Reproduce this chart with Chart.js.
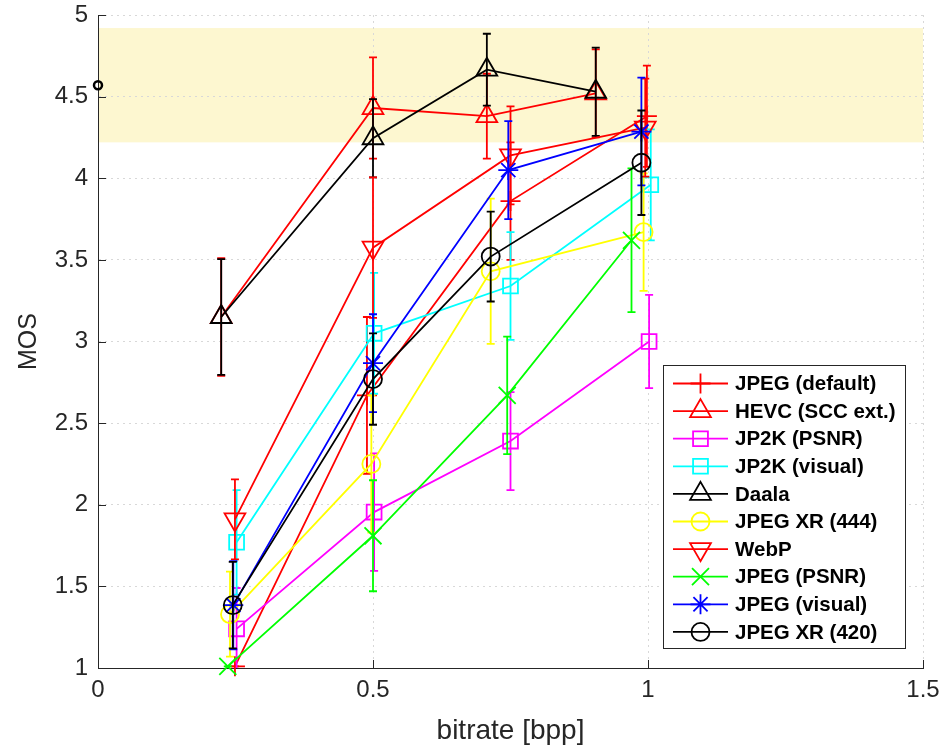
<!DOCTYPE html>
<html>
<head>
<meta charset="utf-8">
<script src="https://cdn.jsdelivr.net/npm/chart.js@4.4.0/dist/chart.umd.min.js"></script>
<style>
  html, body { margin: 0; padding: 0; background: #fff; }
</style>
</head>
<body>
<canvas id="chart" width="944" height="750"></canvas>
<script>
// codecs in legend order
const names = ['JPEG (default)', 'HEVC (SCC ext.)', 'JP2K (PSNR)', 'JP2K (visual)', 'Daala',
               'JPEG XR (444)', 'WebP', 'JPEG (PSNR)', 'JPEG (visual)', 'JPEG XR (420)'];
const colors = ['#ff0000', '#ff0000', '#ff00ff', '#00ffff', '#000000',
                '#ffff00', '#ff0000', '#00ff00', '#0000ff', '#000000'];
const markers = ['cross', 'triangle', 'rect', 'rect', 'triangle',
                 'circle', 'triangle', 'crossRot', 'star', 'circle'];
const markerRot = [0, 0, 0, 0, 0, 0, 180, 0, 0, 0];
const markerSize = [10, 12, 10.5, 10.5, 12, 9, 12, 12, 10, 9];

// bitrate [bpp] per codec
const bitrate = [
  [0.249, 0.489, 0.750, 0.998],
  [0.224, 0.500, 0.707, 0.905],
  [0.252, 0.502, 0.750, 1.002],
  [0.252, 0.502, 0.750, 1.005],
  [0.224, 0.500, 0.707, 0.905],
  [0.240, 0.497, 0.714, 0.992],
  [0.249, 0.500, 0.750, 0.995],
  [0.236, 0.500, 0.744, 0.970],
  [0.246, 0.500, 0.746, 0.988],
  [0.245, 0.500, 0.714, 0.988]
];
// mean opinion score
const mos = [
  [1.01, 2.67, 3.86, 4.38],
  [3.15, 4.43, 4.38, 4.52],
  [1.24, 1.955, 2.39, 3.00],
  [1.77, 3.05, 3.34, 3.96],
  [3.15, 4.245, 4.665, 4.53],
  [1.33, 2.25, 3.43, 3.67],
  [1.91, 3.575, 4.14, 4.31],
  [1.01, 1.81, 2.67, 3.62],
  [1.385, 2.867, 4.05, 4.286],
  [1.385, 2.77, 3.52, 4.095]
];
// confidence interval half width
const ci = [
  [0.00, 0.48, 0.36, 0.31],
  [0.36, 0.31, 0.26, 0.27],
  [0.25, 0.36, 0.30, 0.285],
  [0.32, 0.37, 0.33, 0.34],
  [0.355, 0.24, 0.22, 0.27],
  [0.26, 0.42, 0.445, 0.36],
  [0.245, 0.43, 0.30, 0.30],
  [0.00, 0.34, 0.36, 0.44],
  [0.27, 0.30, 0.30, 0.33],
  [0.265, 0.28, 0.275, 0.32]
];

const refPoint = [0, 4.57];
const bandLow = 4.22, bandHigh = 4.92;

const axisColor = '#262626';
const fontFamily = '"Liberation Sans", Arial, Helvetica, sans-serif';

const datasets = names.map((n, i) => ({
  label: n,
  data: bitrate[i].map((b, j) => ({x: b, y: mos[i][j]})),
  showLine: true,
  borderColor: colors[i],
  borderWidth: 1.8,
  pointStyle: markers[i],
  pointRotation: markerRot[i],
  pointRadius: markerSize[i],
  pointBorderWidth: 1.8,
  pointBorderColor: colors[i],
  pointBackgroundColor: 'rgba(0,0,0,0)',
  tension: 0,
  clip: false,
  order: names.length - i
}));
datasets.push({
  label: 'ref',
  data: [{x: refPoint[0], y: refPoint[1]}],
  showLine: false,
  pointStyle: 'circle',
  pointRadius: 4,
  pointBorderWidth: 2.5,
  pointBorderColor: '#000',
  pointBackgroundColor: 'rgba(0,0,0,0)',
  clip: false,
  order: 0
});

// light yellow band, under the grid
const bandPlugin = {
  id: 'band',
  beforeDraw(chart) {
    const {ctx, chartArea: a, scales: {y}} = chart;
    const top = y.getPixelForValue(bandHigh), bot = y.getPixelForValue(bandLow);
    ctx.save();
    ctx.fillStyle = '#fdf7d0';
    ctx.fillRect(a.left, top, a.right - a.left, bot - top);
    ctx.restore();
  }
};

// error bars, drawn just before each series
const errorPlugin = {
  id: 'errorbars',
  beforeDatasetDraw(chart, args) {
    const i = args.index;
    if (i >= names.length) return;
    const {ctx, chartArea: a, scales: {x, y}} = chart;
    ctx.save();
    ctx.beginPath();
    ctx.rect(a.left - 10, a.top - 10, a.right - a.left + 20, a.bottom - a.top + 10);
    ctx.clip();
    ctx.strokeStyle = colors[i];
    ctx.lineWidth = 1.8;
    bitrate[i].forEach((b, j) => {
      const px = x.getPixelForValue(b);
      const y1 = y.getPixelForValue(mos[i][j] + ci[i][j]);
      const y2 = y.getPixelForValue(mos[i][j] - ci[i][j]);
      ctx.beginPath();
      ctx.moveTo(px, y1); ctx.lineTo(px, y2);
      ctx.moveTo(px - 4, y1); ctx.lineTo(px + 4, y1);
      ctx.moveTo(px - 4, y2); ctx.lineTo(px + 4, y2);
      ctx.stroke();
    });
    ctx.restore();
  }
};

// inward tick marks + legend box
const decoPlugin = {
  id: 'deco',
  afterDraw(chart) {
    const {ctx, chartArea: a, scales: {x, y}} = chart;
    ctx.save();
    ctx.strokeStyle = axisColor;
    ctx.lineWidth = 1;
    y.ticks.forEach(t => {
      const py = Math.round(y.getPixelForValue(t.value)) + 0.5;
      ctx.beginPath(); ctx.moveTo(a.left, py); ctx.lineTo(a.left + 8, py); ctx.stroke();
    });
    x.ticks.forEach(t => {
      const px = Math.round(x.getPixelForValue(t.value)) + 0.5;
      ctx.beginPath(); ctx.moveTo(px, a.bottom); ctx.lineTo(px, a.bottom - 8); ctx.stroke();
    });

    // legend
    const lx = 663, ly = 365, lw = 242, lh = 283;
    ctx.fillStyle = '#fff';
    ctx.fillRect(lx, ly, lw, lh);
    ctx.strokeStyle = axisColor;
    ctx.strokeRect(lx + 0.5, ly + 0.5, lw, lh);
    ctx.font = 'bold 20.5px ' + fontFamily;
    ctx.textBaseline = 'middle';
    names.forEach((n, i) => {
      const cy = 383.5 + i * 27.6;
      ctx.strokeStyle = colors[i];
      ctx.lineWidth = 1.8;
      ctx.beginPath(); ctx.moveTo(673, cy); ctx.lineTo(728, cy); ctx.stroke();
      ctx.fillStyle = 'rgba(0,0,0,0)';
      Chart.helpers.drawPoint(ctx, {
        pointStyle: markers[i], rotation: markerRot[i],
        radius: markerSize[i], borderWidth: 1.8
      }, 700.5, cy);
      ctx.fillStyle = '#000';
      ctx.fillText(n, 735, cy + 1);
    });
    ctx.restore();
  }
};

const plainNumber = v => String(Math.round(v * 100) / 100);

new Chart(document.getElementById('chart'), {
  type: 'scatter',
  data: {datasets},
  plugins: [bandPlugin, errorPlugin, decoPlugin],
  options: {
    responsive: false,
    animation: false,
    layout: {padding: {top: 15, right: 21, left: 0, bottom: 0}},
    plugins: {legend: {display: false}, tooltip: {enabled: false}},
    scales: {
      x: {
        type: 'linear', min: 0, max: 1.5,
        ticks: {stepSize: 0.5, color: axisColor, padding: 8, font: {size: 24, family: fontFamily},
                maxRotation: 0, callback: plainNumber},
        grid: {color: '#d8d8d8', drawTicks: false},
        border: {color: axisColor, width: 1, dash: [2, 4]},
        title: {display: true, text: 'bitrate [bpp]', color: axisColor,
                font: {size: 28, family: fontFamily}, padding: {bottom: 2}},
        afterFit(s) { s.height = 82; s.paddingLeft = 0; s.paddingRight = 0; }
      },
      y: {
        type: 'linear', min: 1, max: 5,
        ticks: {stepSize: 0.5, color: axisColor, padding: 10, font: {size: 24, family: fontFamily},
                callback: plainNumber},
        grid: {color: '#d8d8d8', drawTicks: false},
        border: {color: axisColor, width: 1, dash: [2, 4]},
        title: {display: true, text: 'MOS', color: axisColor,
                font: {size: 25, family: fontFamily}, padding: {top: 14}},
        afterFit(s) { s.width = 98; s.paddingTop = 0; s.paddingBottom = 0; }
      }
    }
  }
});
</script>
</body>
</html>
